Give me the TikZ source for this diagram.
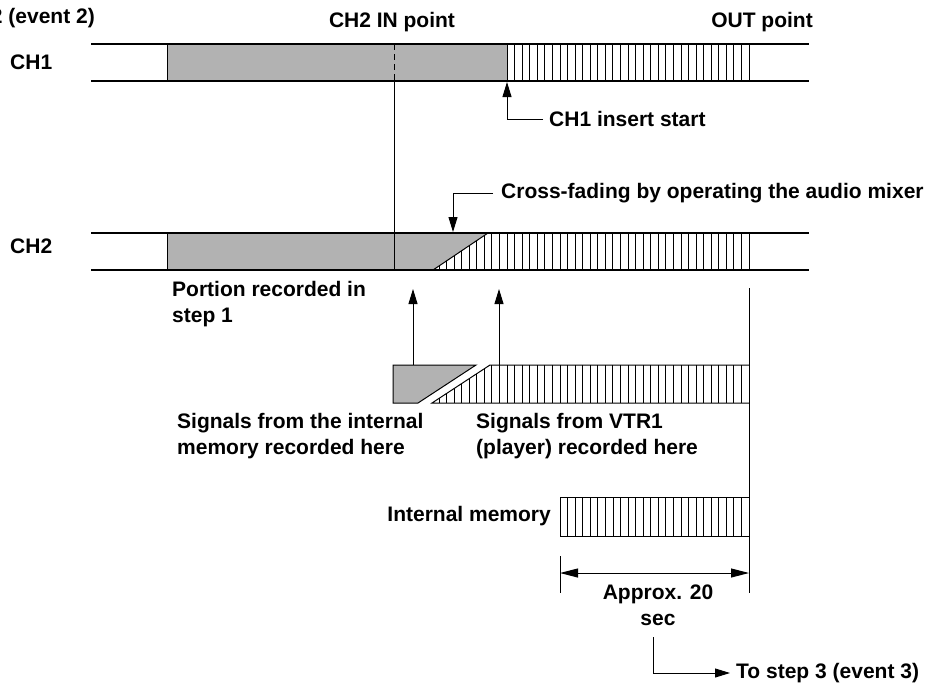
\documentclass[tikz,border=0pt]{standalone}
\usepackage{fontspec}
\setmainfont{Liberation Sans}
\usetikzlibrary{arrows.meta}
\begin{document}
\begin{tikzpicture}[x=1pt,y=-1pt,
  lbl/.style={font=\fontsize{21}{26}\selectfont\bfseries, inner sep=0pt, align=left},
  barline/.style={line width=2pt},
  thinl/.style={line width=1pt},
  hatchl/.style={line width=0.8pt},
  arr/.style={-{Triangle[length=15pt,width=9pt]}, line width=1pt},
  darr/.style={{Triangle[length=18pt,width=9pt]}-{Triangle[length=18pt,width=9pt]}, line width=1pt},
  grayfill/.style={fill=black!30},
]
\useasboundingbox (0,0) rectangle (931,683);
\clip (0,0) rectangle (931,683);

% ---------- CH1 bar ----------
\fill[grayfill] (167,44) rectangle (507,81);
\foreach \i in {0,...,32} \draw[hatchl] ({749-\i*7.5625},44) -- ({749-\i*7.5625},81);
\draw[thinl] (167,44) -- (167,81);
\draw[thinl] (507,44) -- (507,81);
\draw[thinl,dashed,dash pattern=on 6pt off 4pt] (394,44) -- (394,81);
\draw[barline] (91,44) -- (809,44);
\draw[barline] (91,81) -- (809,81);

% ---------- CH2 bar ----------
\fill[grayfill] (167,233) -- (488,233) -- (433,270) -- (167,270) -- cycle;
\begin{scope}
  \clip (433,270) -- (488,233) -- (749,233) -- (749,270) -- cycle;
  \foreach \i in {0,...,42} \draw[hatchl] ({749-\i*7.5625},233) -- ({749-\i*7.5625},270);
\end{scope}
\draw[thinl] (749,233) -- (749,270);
\draw[thinl] (433,270) -- (488,233);
\draw[thinl] (167,233) -- (167,270);
\draw[barline] (91,233) -- (809,233);
\draw[barline] (91,270) -- (809,270);

% IN point line
\coordinate (inA) at (394,81);
\coordinate (inB) at (394,270);
\draw[thinl] (inA) -- (inB);

% ---------- VTR / memory signal bar ----------
\draw[thinl, grayfill] (393,365) -- (476,365) -- (418,403) -- (393,403) -- cycle;
\begin{scope}
  \clip (432,403) -- (490,365) -- (749,365) -- (749,403) -- cycle;
  \foreach \i in {0,...,42} \draw[hatchl] ({749-\i*7.5625},365) -- ({749-\i*7.5625},403);
\end{scope}
\draw[thinl] (749,365) -- (490,365) -- (432,403) -- (749,403);

% up arrows
\coordinate (upA0) at (413,365);
\coordinate (upA1) at (413,289);
\coordinate (upB0) at (499,365);
\coordinate (upB1) at (499,289);
\draw[arr] (upA0) -- (upA1);
\draw[arr] (upB0) -- (upB1);

% OUT line
\coordinate (outA) at (749,288);
\coordinate (outB) at (749,593);
\draw[thinl] (outA) -- (outB);

% ---------- Internal memory ----------
\begin{scope}
  \foreach \i in {0,...,25} \draw[hatchl] ({749-\i*7.56},497) -- ({749-\i*7.56},536);
\end{scope}
\draw[thinl] (560,497) rectangle (749,536);

% dimension
\coordinate (dimT0) at (560,556);
\coordinate (dimT1) at (560,593);
\draw[thinl] (dimT0) -- (dimT1);
\coordinate (dimL) at (560,573);
\coordinate (dimR) at (749,573);
\draw[darr] (dimL) -- (dimR);

% ---------- Labels ----------
\node[lbl, anchor=east] (ev2) at (95,18) {2 (event 2)};
\node[lbl] (ch2in) at (392,22) {CH2 IN point};
\node[lbl] (outp) at (762,22) {OUT point};
\node[lbl, anchor=west] (ch1) at (10,62) {CH1};
\node[lbl, anchor=west] (ch2) at (10,246) {CH2};

\node[lbl, anchor=west] (ins) at (549,119) {CH1 insert start};
\coordinate (insP) at (507,82);
\draw[arr] ([xshift=-6pt]ins.west) -| (insP);

\node[lbl, anchor=west] (cf) at (501,193) {Cross-fading by operating the audio mixer};
\coordinate (cfP) at (453,232);
\draw[arr] ([xshift=-8pt]cf.west) -| (cfP);

\node[lbl, anchor=north west] (por) at (172,281) {Portion recorded in\\step 1};
\node[lbl, anchor=west] (sim) at (177,436) {Signals from the internal\\memory recorded here};
\node[lbl, anchor=west] (svt) at (476,436) {Signals from VTR1\\(player) recorded here};
\node[lbl, anchor=east] (im) at (551,516) {Internal memory};
\node[lbl, align=center] (apx) at (658,605) {Approx. 20\\sec};

\node[lbl, anchor=west] (to3) at (736,673) {To step 3 (event 3)};
\coordinate (toA) at (653,637);
\draw[arr] (toA) |- ([xshift=-6pt]to3.west);

\end{tikzpicture}
\end{document}
